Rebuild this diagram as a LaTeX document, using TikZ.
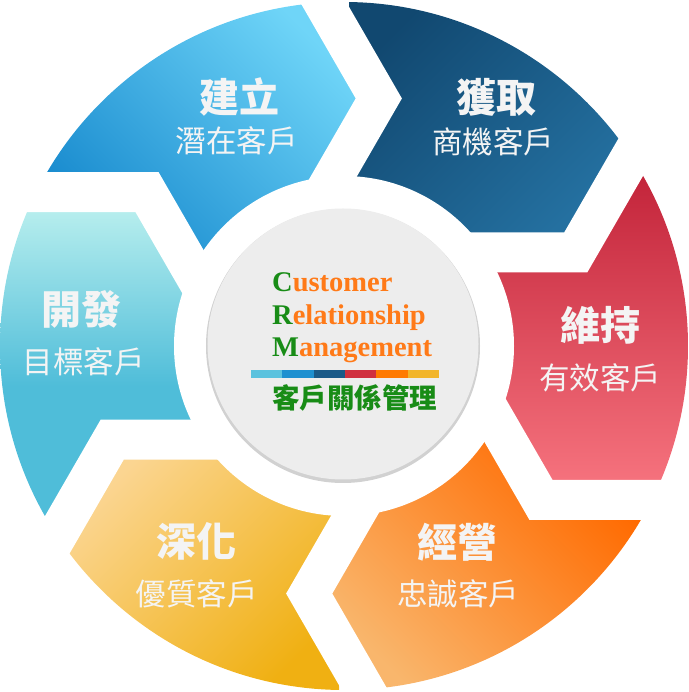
\documentclass[tikz,border=0pt]{standalone}
\usepackage{fontspec}
\setmainfont{Liberation Serif}
\newfontfamily\cjk{Noto Sans CJK TC}
\usetikzlibrary{calc}
\definecolor{blueL}{HTML}{6FD5F8}
\definecolor{blueD}{HTML}{1A8CCF}
\definecolor{navyD}{HTML}{114870}
\definecolor{navyL}{HTML}{2470A0}
\definecolor{redD}{HTML}{C3243A}
\definecolor{redL}{HTML}{F6737E}
\definecolor{orgD}{HTML}{FF6A00}
\definecolor{orgL}{HTML}{F9B66C}
\definecolor{yelL}{HTML}{FBD591}
\definecolor{yelD}{HTML}{F0B012}
\definecolor{cyaL}{HTML}{B9EFEE}
\definecolor{cyaD}{HTML}{4FBDD9}
\definecolor{crmgreen}{RGB}{24,140,22}
\definecolor{crmorange}{RGB}{255,122,24}
\definecolor{txtw}{HTML}{F4F4F4}
\definecolor{barA}{HTML}{5BC2DE}
\definecolor{barB}{HTML}{1E90D0}
\definecolor{barC}{HTML}{1A5A88}
\definecolor{barD}{HTML}{D0303F}
\definecolor{barE}{HTML}{FF7A00}
\definecolor{barF}{HTML}{F2B52A}
% segment region between the cut at angle #1 (tail) and the cut at #1-60 (head)
\newcommand\segp[1]{($(#1:250)$) -- ($(#1:250)+(#1+38:400)$) -- (#1-30:900) -- ($(#1-60:250)+(#1-22:400)$) -- (#1-60:250) -- ($(#1-60:250)+(#1+98:200)$) -- (0,0) -- ($(#1:250)+(#1+158:200)$) -- cycle}
% white cut band centre line
\newcommand\cutp[1]{($(#1:250)+(#1+38:220)$) -- (#1:250) -- ($(#1:250)+(#1+158:130)$)}
\tikzset{
  gapband/.style={draw=white, line width=40, line join=miter, miter limit=10},
  ttl/.style={inner sep=0, text=txtw, font=\cjk\bfseries\fontsize{40}{42}\selectfont},
  sub/.style={inner sep=0, text=txtw, font=\cjk\fontsize{30.5}{32}\selectfont},
  crm/.style={inner sep=0, anchor=base west, text=crmorange, font=\bfseries\fontsize{28.5}{30}\selectfont},
}
\begin{document}
\begin{tikzpicture}[x=1pt,y=1pt]
\useasboundingbox (-344,-346) rectangle (344,346);
% segments
\begin{scope}
  \clip (0,0) circle[radius=344];
  \clip \segp{142};
  \shade[top color=blueL, bottom color=blueD, shading angle=-45] (-300,95) rectangle (15,346);
\end{scope}
\begin{scope}
  \clip (0,0) circle[radius=344];
  \clip \segp{82};
  \shade[top color=navyD, bottom color=navyL, shading angle=45] (5,110) rectangle (280,346);
\end{scope}
\begin{scope}
  \clip (0,0) circle[radius=344];
  \clip \segp{22};
  \shade[top color=redD, bottom color=redL] (150,-140) rectangle (344,172);
\end{scope}
\begin{scope}
  \clip (0,0) circle[radius=344];
  \clip \segp{-38};
  \shade[top color=orgD, bottom color=orgL, shading angle=-45] (-15,-346) rectangle (300,-95);
\end{scope}
\begin{scope}
  \clip (0,0) circle[radius=344];
  \clip \segp{-98};
  \shade[top color=yelL, bottom color=yelD, shading angle=45] (-280,-346) rectangle (-5,-108);
\end{scope}
\begin{scope}
  \clip (0,0) circle[radius=344];
  \clip \segp{-158};
  \shade[top color=cyaL, bottom color=cyaD] (-344,-40) rectangle (-150,140);
  \fill[cyaD] (-344,-170) rectangle (-150,-40);
\end{scope}
% inner white ring and gaps
\fill[white] (0,0) circle[radius=170];
\foreach \a in {82,22,-38,-98,-158,142} { \path[gapband] \cutp{\a}; }
% centre disc
\fill[black!18] (-1,0) circle[radius=137];
\fill[black!7] (-1,2) circle[radius=135.5];
% segment labels
\node[ttl] (t1) at (-104,249) {建立};
\node[sub] (s1) at (-107,205) {潛在客戶};
\node[ttl] (t2) at (152,249) {獲取};
\node[sub] (s2) at (149,204) {商機客戶};
\node[ttl] (t3) at (256,21) {維持};
\node[sub] (s3) at (256,-32) {有效客戶};
\node[ttl] (t4) at (113,-196) {經營};
\node[sub] (s4) at (114,-248) {忠誠客戶};
\node[ttl] (t5) at (-147,-195) {深化};
\node[sub] (s5) at (-147,-248) {優質客戶};
\node[ttl] (t6) at (-262,37) {開發};
\node[sub] (s6) at (-260,-16) {目標客戶};
% centre text
\node[crm] (c1) at (-72,54) {\textcolor{crmgreen}{C}ustomer};
\node[crm] (c2) at (-72,21) {\textcolor{crmgreen}{R}elationship};
\node[crm] (c3) at (-72,-11) {\textcolor{crmgreen}{M}anagement};
\foreach \c [count=\i from 0] in {barA,barB,barC,barD,barE,barF}
  \fill[\c] (-93+\i*31.33,-32.5) rectangle (-93+\i*31.33+31.33,-24);
\node[inner sep=0, text=crmgreen, font=\cjk\bfseries\fontsize{27.5}{29}\selectfont] (c4) at (10.5,-52) {客戶關係管理};
\end{tikzpicture}
\end{document}
